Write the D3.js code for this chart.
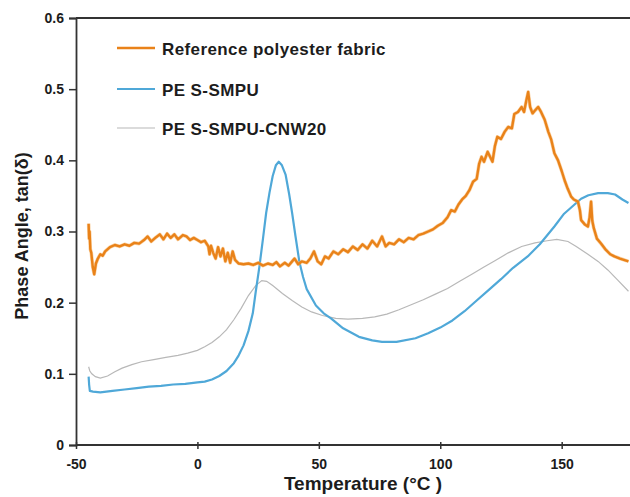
<!DOCTYPE html>
<html>
<head>
<meta charset="utf-8">
<script src="https://cdn.jsdelivr.net/npm/d3@7"></script>
<style>
html,body{margin:0;padding:0;background:#fff;}
svg{display:block;}
text{font-family:"Liberation Sans",Arial,sans-serif;font-weight:bold;fill:#1c1c1c;}
</style>
</head>
<body>
<svg id="chart" width="630" height="497"></svg>
<script>
// ---- data (temperature °C, tan δ) ----
const seriesNames = ["Reference polyester fabric", "PE S-SMPU", "PE S-SMPU-CNW20"];
const xTicks = [-50, 0, 50, 100, 150];
const yTicks = [0, 0.1, 0.2, 0.3, 0.4, 0.5, 0.6];

const referenceFabric = [
  [-44.8,0.311],[-44.6,0.29],[-44.4,0.30],[-44.1,0.275],[-43.7,0.27],[-43.1,0.25],[-42.5,0.24],[-41.8,0.255],
  [-41,0.262],[-40,0.268],[-39,0.266],[-38,0.272],[-36,0.278],[-34,0.281],[-32,0.279],[-30,0.282],[-28,0.280],
  [-26,0.284],[-24,0.283],[-22,0.288],[-20.5,0.293],[-19,0.286],[-17,0.292],[-15.5,0.296],[-14,0.289],[-12.5,0.297],
  [-11,0.291],[-9.5,0.296],[-8,0.289],[-6,0.295],[-4.5,0.293],[-3,0.288],[-1.5,0.291],[0,0.288],[1.5,0.285],
  [3,0.287],[4.5,0.279],[5,0.268],[5.6,0.28],[6.5,0.27],[7.5,0.262],[8.5,0.278],[9.5,0.265],[10.5,0.276],
  [11.5,0.258],[12.5,0.27],[13.5,0.256],[14.5,0.272],[15.5,0.26],[17,0.255],[19,0.254],[21,0.255],[23,0.253],
  [25,0.256],[27,0.252],[29,0.255],[31,0.253],[32.5,0.257],[34,0.251],[36,0.256],[37.5,0.252],[39,0.258],
  [40,0.262],[41.5,0.254],[43,0.258],[45,0.256],[46.5,0.262],[48,0.272],[49.5,0.258],[51,0.254],[52.5,0.265],
  [54,0.262],[56,0.272],[58,0.268],[60,0.275],[62,0.271],[64,0.279],[66,0.274],[68,0.282],[70,0.276],[72,0.287],
  [74,0.279],[76,0.293],[77.5,0.279],[79,0.284],[81,0.282],[83,0.289],[85,0.285],[87,0.291],[89,0.289],[91,0.295],
  [93,0.297],[95,0.300],[97,0.303],[99,0.308],[101,0.312],[103,0.32],[104.5,0.33],[106,0.328],[107.5,0.338],
  [109,0.345],[110.5,0.35],[112,0.358],[113.5,0.37],[115,0.374],[116,0.395],[117,0.405],[118,0.398],[119.5,0.412],
  [120.5,0.405],[121.5,0.398],[122.5,0.42],[123.5,0.433],[125,0.43],[126.5,0.44],[128,0.447],[129.5,0.445],
  [130.5,0.465],[132,0.468],[133.5,0.475],[134.5,0.468],[135.5,0.485],[136.2,0.496],[137,0.475],[138,0.466],
  [139,0.47],[140.3,0.475],[141.5,0.468],[143,0.457],[144.5,0.44],[145.7,0.429],[147,0.41],[148.5,0.40],
  [150,0.385],[151.2,0.372],[152.5,0.36],[153.9,0.349],[155,0.345],[156.7,0.342],[157.5,0.33],[158,0.316],
  [159.5,0.31],[160.8,0.307],[161.5,0.32],[162.1,0.342],[162.6,0.315],[163.2,0.305],[164.5,0.29],[166.2,0.283],
  [168,0.275],[170,0.268],[171.7,0.265],[174,0.262],[177.5,0.258]
];

const pesSmpu = [
  [-44.8,0.096],[-44.6,0.085],[-44.3,0.076],[-43,0.075],[-40,0.074],[-35,0.076],[-30,0.078],[-25,0.080],
  [-20,0.082],[-15,0.083],[-10,0.085],[-5,0.086],[0,0.088],[3,0.089],[6,0.092],[9,0.097],[12,0.104],[15,0.115],
  [17,0.126],[19,0.14],[21,0.16],[22.8,0.185],[24,0.215],[25.5,0.25],[27,0.29],[28.3,0.326],[29.7,0.355],
  [31,0.378],[32.3,0.393],[33.5,0.398],[34.8,0.393],[36.3,0.38],[37.8,0.352],[39,0.326],[40.4,0.293],[42,0.257],
  [43.5,0.236],[45,0.219],[48.8,0.196],[52,0.185],[55,0.178],[60,0.164],[66.5,0.152],[72,0.147],[76,0.145],
  [82,0.145],[89.8,0.150],[95,0.157],[100,0.165],[105,0.175],[110,0.188],[115,0.203],[120,0.218],[125,0.233],
  [130,0.249],[136,0.265],[141,0.282],[147,0.307],[151,0.325],[155.3,0.338],[158,0.346],[161,0.351],[165,0.354],
  [169,0.354],[172,0.352],[175,0.345],[177.5,0.34]
];

const pesSmpuCnw20 = [
  [-44.8,0.110],[-44.3,0.104],[-43.5,0.100],[-42,0.096],[-40,0.094],[-37,0.097],[-34,0.103],[-31,0.108],
  [-27,0.113],[-23,0.117],[-18,0.120],[-13,0.123],[-8,0.126],[-4,0.129],[0,0.133],[3,0.138],[6,0.144],
  [9,0.152],[12,0.162],[15,0.176],[18,0.192],[21,0.210],[24,0.224],[26.5,0.231],[28.5,0.230],[31,0.224],
  [35,0.213],[39,0.203],[43,0.194],[47,0.187],[51.5,0.182],[57,0.178],[62,0.177],[68,0.178],[73,0.180],
  [78,0.184],[83,0.190],[88,0.197],[93,0.204],[98,0.212],[103,0.220],[108,0.230],[113,0.240],[118,0.250],
  [122.5,0.259],[128,0.270],[133.5,0.279],[139,0.284],[144,0.287],[148,0.289],[152.6,0.286],[156,0.279],
  [160.8,0.268],[165,0.258],[169,0.246],[173,0.232],[177.5,0.216]
];

// ---- layout ----
const svg = d3.select("#chart");
const plotLeft = 76, plotTop = 18, plotBottom = 445, plotRight = 630;
const x = d3.scaleLinear().domain([-50, 200]).range([plotLeft, 683.1]);
const y = d3.scaleLinear().domain([0, 0.6]).range([plotBottom, plotTop]);
const axisColor = "#333";

svg.append("defs").append("clipPath").attr("id","plotclip")
  .append("rect").attr("x", plotLeft).attr("y", plotTop - 2).attr("width", plotRight - plotLeft).attr("height", plotBottom - plotTop + 2);

// top frame line
svg.append("line").attr("x1", plotLeft).attr("x2", plotRight).attr("y1", plotTop).attr("y2", plotTop)
  .attr("stroke", axisColor).attr("stroke-width", 1.8);

const line = d3.line().x(d => x(d[0])).y(d => y(d[1]));
const plot = svg.append("g").attr("clip-path", "url(#plotclip)");

plot.append("path").datum(pesSmpuCnw20).attr("d", line)
  .attr("fill","none").attr("stroke","#b8b8b8").attr("stroke-width",1.2);
plot.append("path").datum(pesSmpu).attr("d", line)
  .attr("fill","none").attr("stroke","#4fa8d8").attr("stroke-width",2.2).attr("stroke-linejoin","round");
plot.append("path").datum(referenceFabric).attr("d", line)
  .attr("fill","none").attr("stroke","#f6b66a").attr("stroke-width",3.6).attr("stroke-linejoin","round").attr("opacity",0.6);
plot.append("path").datum(referenceFabric).attr("d", line)
  .attr("fill","none").attr("stroke","#e98219").attr("stroke-width",2.4).attr("stroke-linejoin","round");

// y axis
const yAxis = svg.append("g").attr("transform", `translate(${plotLeft},0)`)
  .call(d3.axisLeft(y).tickValues(yTicks).tickSize(7).tickPadding(5)
        .tickFormat(d => d === 0 ? "0" : d3.format(".1f")(d)));
yAxis.select(".domain").attr("stroke", axisColor).attr("stroke-width", 1.8);
yAxis.selectAll(".tick line").attr("stroke", axisColor).attr("stroke-width", 1.5);
yAxis.selectAll(".tick text").attr("font-size", 14).attr("fill", "#1c1c1c")
  .attr("font-family", '"Liberation Sans",Arial,sans-serif').attr("font-weight","bold");

// x axis
const xAxis = svg.append("g").attr("transform", `translate(0,${plotBottom})`)
  .call(d3.axisBottom(x).tickValues(xTicks).tickSize(4).tickPadding(10).tickSizeOuter(0)
        .tickFormat(d => String(d)));
xAxis.select(".domain").attr("stroke", axisColor).attr("stroke-width", 1.8)
  .attr("d", `M${plotLeft},0H${plotRight}`);
xAxis.selectAll(".tick line").attr("stroke", axisColor).attr("stroke-width", 1.5).attr("y1", -3);
xAxis.selectAll(".tick text").attr("font-size", 14).attr("fill", "#1c1c1c")
  .attr("font-family", '"Liberation Sans",Arial,sans-serif').attr("font-weight","bold");

// axis titles
svg.append("text").attr("x", 363).attr("y", 490).attr("text-anchor","middle")
  .attr("font-size", 19).text("Temperature (°C )");
svg.append("text").attr("transform", "translate(28,236) rotate(-90)").attr("text-anchor","middle")
  .attr("font-size", 18).text("Phase Angle, tan(δ)");

// legend
const legendColors = ["#e98219", "#4fa8d8", "#b8b8b8"];
const legendWidths = [2.4, 2.2, 1.2];
const legendY = [48, 89, 128];
seriesNames.forEach((name, i) => {
  svg.append("line").attr("x1", 117).attr("x2", 155).attr("y1", legendY[i]).attr("y2", legendY[i])
    .attr("stroke", legendColors[i]).attr("stroke-width", legendWidths[i]);
  svg.append("text").attr("x", 162).attr("y", legendY[i] + 6.5).attr("font-size", 17)
    .attr("letter-spacing", 0.4).text(name);
});
</script>
</body>
</html>
